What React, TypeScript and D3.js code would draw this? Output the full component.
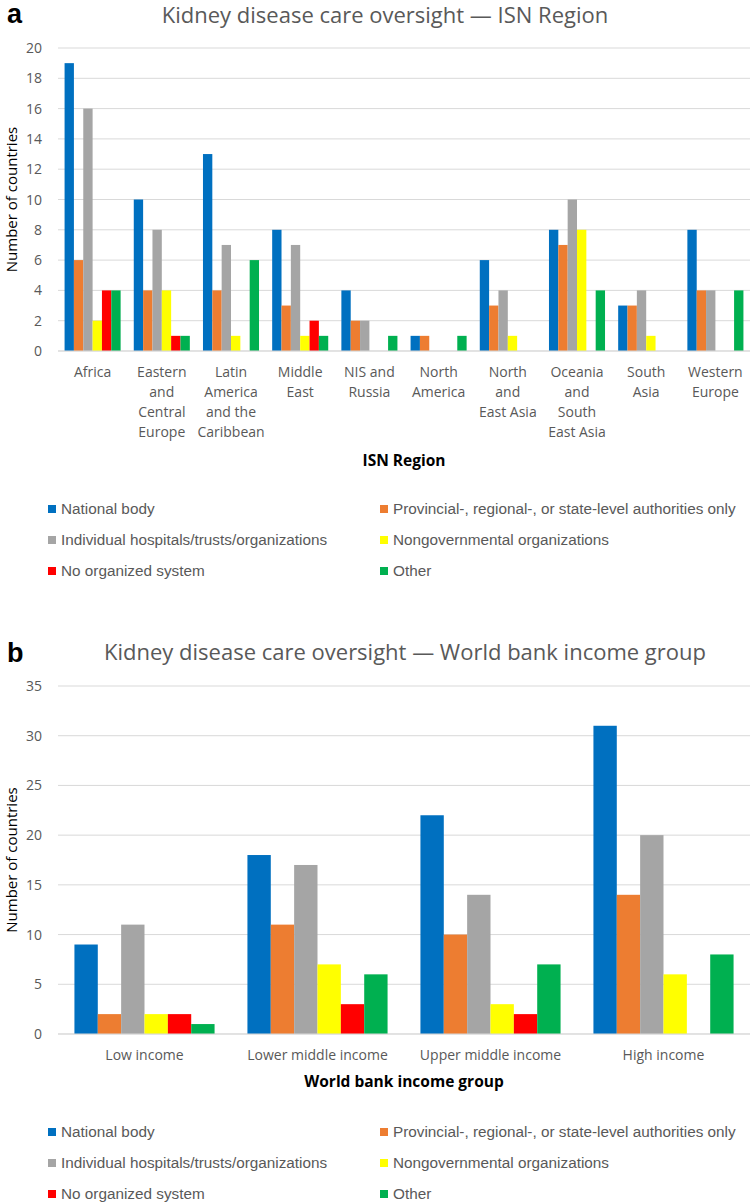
import React from "react";
import * as d3 from "d3";

const seriesNames = [
  "National body",
  "Provincial-, regional-, or state-level authorities only",
  "Individual hospitals/trusts/organizations",
  "Nongovernmental organizations",
  "No organized system",
  "Other",
];
const seriesColors = ["#0070C0", "#ED7D31", "#A5A5A5", "#FFFF00", "#FF0000", "#00B050"];

// panel a: ISN region
const isnRegions = [
  ["Africa"],
  ["Eastern", "and", "Central", "Europe"],
  ["Latin", "America", "and the", "Caribbean"],
  ["Middle", "East"],
  ["NIS and", "Russia"],
  ["North", "America"],
  ["North", "and", "East Asia"],
  ["Oceania", "and", "South", "East Asia"],
  ["South", "Asia"],
  ["Western", "Europe"],
];
const isnNational = [19, 10, 13, 8, 4, 1, 6, 8, 3, 8];
const isnProvincial = [6, 4, 4, 3, 2, 1, 3, 7, 3, 4];
const isnHospitals = [16, 8, 7, 7, 2, 0, 4, 10, 4, 4];
const isnNgo = [2, 4, 1, 1, 0, 0, 1, 8, 1, 0];
const isnNone = [4, 1, 0, 2, 0, 0, 0, 0, 0, 0];
const isnOther = [4, 1, 6, 1, 1, 1, 0, 4, 0, 4];
const isnTicks = [0, 2, 4, 6, 8, 10, 12, 14, 16, 18, 20];

// panel b: World bank income group
const incomeGroups = [["Low income"], ["Lower middle income"], ["Upper middle income"], ["High income"]];
const incomeNational = [9, 18, 22, 31];
const incomeProvincial = [2, 11, 10, 14];
const incomeHospitals = [11, 17, 14, 20];
const incomeNgo = [2, 7, 3, 6];
const incomeNone = [2, 3, 2, 0];
const incomeOther = [1, 6, 7, 8];
const incomeTicks = [0, 5, 10, 15, 20, 25, 30, 35];

const font = "'Open Sans', sans-serif";
const legendFont = "'Liberation Sans Narrow', 'Liberation Sans', sans-serif";
const textColor = "#595959";

const Panel = ({ letter, title, titleX, axisTitle, categories, series, ticks, top, bottom, titleY, letterY, axisTitleY, legendY }) => {
  const left = 58;
  const right = 750;
  const y = d3.scaleLinear().domain([0, ticks[ticks.length - 1]]).range([bottom, top]);
  const x0 = d3
    .scaleBand()
    .domain(categories.map((_, i) => String(i)))
    .range([left, right])
    .paddingInner(0.19)
    .paddingOuter(0.095);
  const x1 = d3
    .scaleBand()
    .domain(seriesNames)
    .range([0, x0.bandwidth()]);

  return (
    <g>
      <text x={7} y={letterY} fontFamily="'Liberation Sans', Arial, sans-serif" fontWeight="bold" fontSize={27} fill="#000">
        {letter}
      </text>
      <text x={titleX} y={titleY} textAnchor="middle" fontFamily={font} fontSize={22} fill={textColor}>
        {title}
      </text>
      {ticks.map((t) => (
        <g key={t}>
          <line x1={left} x2={right} y1={y(t)} y2={y(t)} stroke="#D9D9D9" strokeWidth={1} />
          <text x={42} y={y(t) + 5} textAnchor="end" fontFamily={font} fontSize={14} fill={textColor}>
            {t}
          </text>
        </g>
      ))}
      {categories.map((lines, i) => (
        <g key={i} transform={`translate(${x0(String(i))}, 0)`}>
          {series.map((vals, s) => (
            <rect
              key={s}
              x={x1(seriesNames[s])}
              y={y(vals[i])}
              width={x1.bandwidth()}
              height={bottom - y(vals[i])}
              fill={seriesColors[s]}
            />
          ))}
          {lines.map((ln, k) => (
            <text
              key={k}
              x={x0.bandwidth() / 2}
              y={bottom + 26 + k * 20}
              textAnchor="middle"
              fontFamily={font}
              fontSize={14}
              fill={textColor}
            >
              {ln}
            </text>
          ))}
        </g>
      ))}
      <line x1={left} x2={right} y1={bottom} y2={bottom} stroke="#D9D9D9" strokeWidth={1} />
      <text
        transform={`translate(17, ${(top + bottom) / 2}) rotate(-90)`}
        textAnchor="middle"
        fontFamily={font}
        fontSize={15}
        fill="#000"
      >
        Number of countries
      </text>
      <text x={(left + right) / 2} y={axisTitleY} textAnchor="middle" fontFamily={font} fontWeight="bold" fontSize={15.5} fill="#000">
        {axisTitle}
      </text>
      {seriesNames.map((name, s) => {
        const col = s % 2;
        const row = Math.floor(s / 2);
        const lx = col === 0 ? 48 : 380;
        const ly = legendY + row * 31;
        return (
          <g key={name}>
            <rect x={lx} y={ly - 4} width={8} height={8} fill={seriesColors[s]} />
            <text x={lx + 13} y={ly + 5} fontFamily={legendFont} fontSize={15.3} fill={textColor}>
              {name}
            </text>
          </g>
        );
      })}
    </g>
  );
};

export default function App() {
  return (
    <svg
      width={751}
      height={1204}
      style={{ position: "absolute", left: 0, top: 0, background: "#fff" }}
    >
      <rect width={751} height={1204} fill="#fff" />
      <Panel
        letter="a"
        title="Kidney disease care oversight — ISN Region"
        titleX={385}
        axisTitle="ISN Region"
        categories={isnRegions}
        series={[isnNational, isnProvincial, isnHospitals, isnNgo, isnNone, isnOther]}
        ticks={isnTicks}
        top={48}
        bottom={351}
        titleY={23}
        letterY={23}
        axisTitleY={466}
        legendY={509}
      />
      <Panel
        letter="b"
        title="Kidney disease care oversight — World bank income group"
        titleX={405}
        axisTitle="World bank income group"
        categories={incomeGroups}
        series={[incomeNational, incomeProvincial, incomeHospitals, incomeNgo, incomeNone, incomeOther]}
        ticks={incomeTicks}
        top={686}
        bottom={1034}
        titleY={660}
        letterY={662}
        axisTitleY={1087}
        legendY={1132}
      />
    </svg>
  );
}
